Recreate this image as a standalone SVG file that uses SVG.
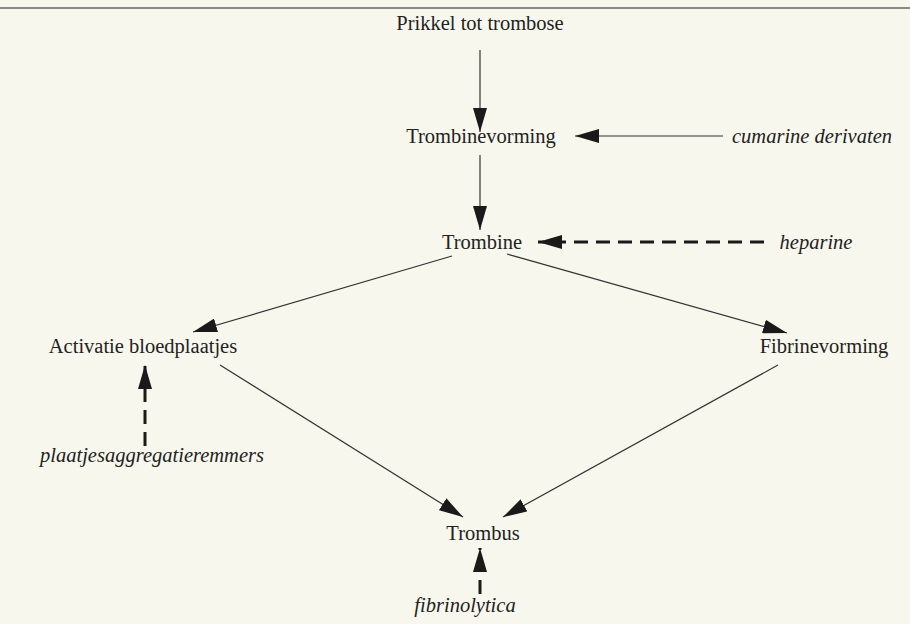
<svg xmlns="http://www.w3.org/2000/svg" width="910" height="624" viewBox="0 0 910 624">
<style>
.t{font-family:"Liberation Serif","Times New Roman",serif;font-size:20.5px;fill:#222;text-anchor:middle}
.i{font-style:italic}
.ln{stroke:#333;stroke-width:1.2;fill:none}
.ds{stroke:#1a1a1a;stroke-width:3;stroke-dasharray:14 8;fill:none}
</style>
<defs>
<marker id="ah" viewBox="0 0 24 14" refX="24" refY="7" markerWidth="24" markerHeight="14" markerUnits="userSpaceOnUse" orient="auto">
<path d="M0,0 L24,7 L0,14 Z" fill="#1a1a1a"/>
</marker>
</defs>
<rect width="910" height="624" fill="#f8f7ed"/>
<line x1="0" y1="8" x2="910" y2="8" stroke="#8a8a88" stroke-width="2"/>
<g id="connectors">
<line class="ln" x1="480" y1="50" x2="480" y2="132" marker-end="url(#ah)"/>
<line class="ln" x1="723" y1="136" x2="575" y2="136" marker-end="url(#ah)"/>
<line class="ln" x1="480" y1="155" x2="480" y2="230" marker-end="url(#ah)"/>
<line class="ds" x1="764" y1="242" x2="538" y2="242" marker-end="url(#ah)"/>
<line class="ln" x1="452" y1="256" x2="193" y2="332" marker-end="url(#ah)"/>
<line class="ln" x1="507" y1="254" x2="787" y2="333" marker-end="url(#ah)"/>
<line class="ds" x1="145" y1="446" x2="145" y2="365" marker-end="url(#ah)"/>
<line class="ln" x1="220" y1="365" x2="463" y2="517" marker-end="url(#ah)"/>
<line class="ln" x1="778" y1="365" x2="503" y2="517" marker-end="url(#ah)"/>
<line class="ds" x1="480" y1="594" x2="480" y2="548" marker-end="url(#ah)"/>
</g>
<g id="n-prikkel"><text class="t" x="480" y="30">Prikkel tot trombose</text></g>
<g id="n-trombinevorming"><text class="t" x="481" y="143">Trombinevorming</text></g>
<g id="n-cumarine"><text class="t i" x="812" y="143">cumarine derivaten</text></g>
<g id="n-trombine"><text class="t" x="482" y="249">Trombine</text></g>
<g id="n-heparine"><text class="t i" x="816" y="249">heparine</text></g>
<g id="n-activatie"><text class="t" x="143" y="353">Activatie bloedplaatjes</text></g>
<g id="n-fibrinevorming"><text class="t" x="824" y="353">Fibrinevorming</text></g>
<g id="n-remmers"><text class="t i" x="152" y="462">plaatjesaggregatieremmers</text></g>
<g id="n-trombus"><text class="t" x="483" y="540">Trombus</text></g>
<g id="n-fibrinolytica"><text class="t i" x="465" y="612">fibrinolytica</text></g>
</svg>
